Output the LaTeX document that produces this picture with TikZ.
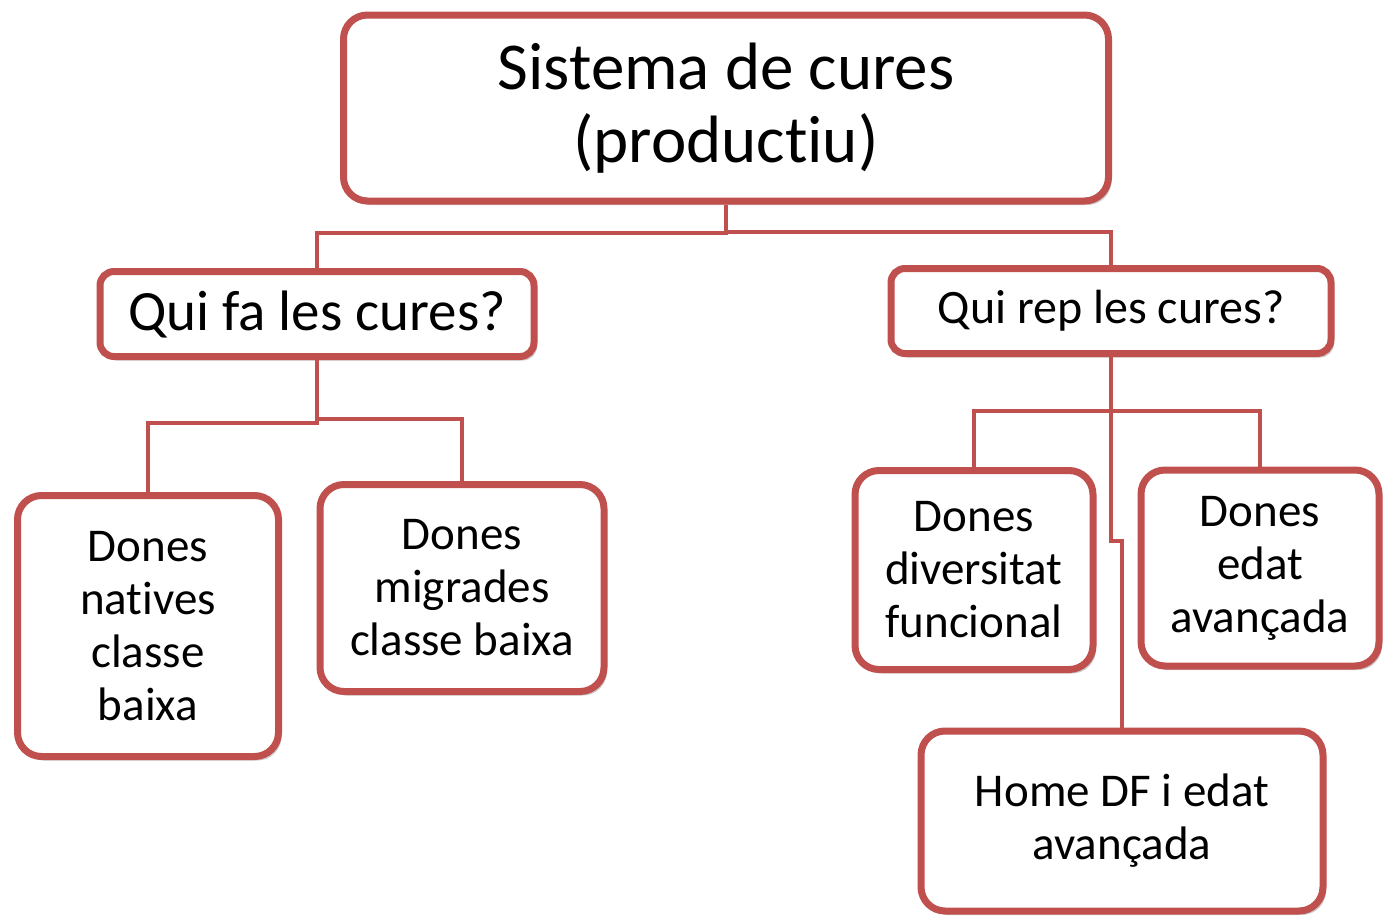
\documentclass[tikz,border=0pt]{standalone}
\usepackage{fontspec}
\setmainfont{Carlito}[Ligatures=NoCommon]
\usetikzlibrary{shadows}
\definecolor{boxred}{HTML}{C0504D}
\tikzset{
  curebox/.style={draw=boxred, line width=7pt, rounded corners=24pt, fill=white,
    align=center, inner sep=0pt,
    drop shadow={opacity=0.4, shadow xshift=3pt, shadow yshift=-4pt}},
  childtext/.style={font=\fontsize{47}{53}\selectfont},
  link/.style={draw=boxred, line width=4pt}
}
\begin{document}
\begin{tikzpicture}[x=1pt, y=-1pt]
  \useasboundingbox (0,0) rectangle (1385,919);
  % caixes
  \node[curebox, minimum width=765pt, minimum height=186pt,
    font=\fontsize{67}{73}\selectfont]
    (sist) at (726,108) {Sistema de cures\\(productiu)};
  \node[curebox, rounded corners=14pt, minimum width=434pt, minimum height=85pt,
    font=\fontsize{57}{60}\selectfont]
    (qfa) at (317,314) {Qui fa les cures?};
  \node[curebox, rounded corners=14pt, minimum width=440pt, minimum height=85pt,
    font=\fontsize{48}{52}\selectfont]
    (qrep) at (1111,311) {Qui rep les cures?};
  \node[curebox, childtext, minimum width=261pt, minimum height=261pt]
    (nat) at (148,626) {Dones\\natives\\classe\\baixa};
  \node[curebox, childtext, minimum width=284pt, minimum height=207pt]
    (mig) at (462,588) {Dones\\migrades\\classe baixa};
  \node[curebox, childtext, minimum width=238pt, minimum height=199pt]
    (div) at (974,570) {Dones\\diversitat\\funcional};
  \node[curebox, childtext, minimum width=238pt, minimum height=196pt]
    (edat) at (1260,568) {Dones\\edat\\avançada};
  \node[curebox, childtext, minimum width=402pt, minimum height=180pt]
    (home) at (1122,821) {Home DF i edat\\avançada};
  % connectors
  \draw[link] (sist.south) -- ++(0,28) -| (qfa.north);
  \draw[link] (sist.south) ++(0,27) -| (qrep.north);
  \draw[link] (qfa.south) -- ++(0,63) -| (nat.north);
  \draw[link] (qfa.south) ++(0,59) -| (mig.north);
  \draw[link] (qrep.south) -- ++(0,54) -| (div.north);
  \draw[link] (qrep.south) ++(0,54) -| (edat.north);
  \draw[link] (qrep.south) -- ++(0,184) -| (home.north);
\end{tikzpicture}
\end{document}
